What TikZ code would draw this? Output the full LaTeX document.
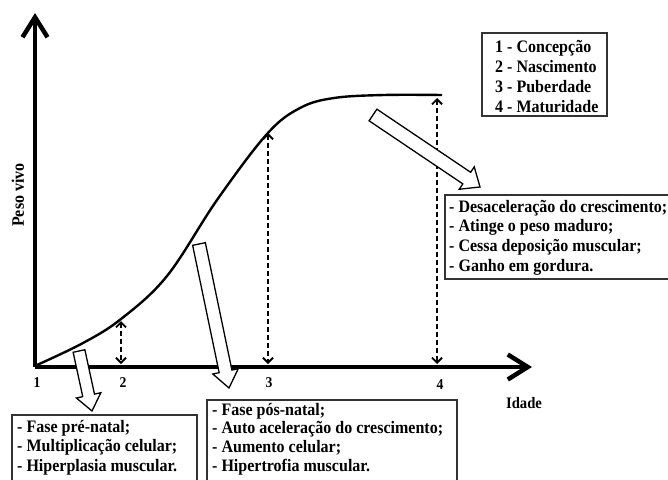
\documentclass[tikz,border=0pt]{standalone}
\usepackage{fontspec}
\setmainfont{Liberation Serif}[FakeStretch=0.915]
\usetikzlibrary{arrows.meta}
\newcommand\blockarrow[7]{%
  \pgfmathsetmacro\baDX{#3-#1}%
  \pgfmathsetmacro\baDY{#2-#4}%
  \pgfmathsetmacro\baL{veclen(\baDX,\baDY)}%
  \pgfmathsetmacro\baA{atan2(\baDY,\baDX)}%
  \pgfmathsetmacro\baB{\baL-#7}%
  \pgfmathsetmacro\baW{#5/2}%
  \pgfmathsetmacro\baH{#6/2}%
  \begin{scope}[shift={(#1,#2)}, rotate=\baA]
    \draw[hollow] (0pt,-\baW pt) -- (\baB pt,-\baW pt) -- (\baB pt,-\baH pt) -- (\baL pt,0pt) -- (\baB pt,\baH pt) -- (\baB pt,\baW pt) -- (0pt,\baW pt) -- cycle;
  \end{scope}}
\newcommand\boxtext[1]{\begin{tabular}[t]{@{}l@{}}#1\end{tabular}}
\begin{document}
\begin{tikzpicture}[x=1pt,y=-1pt,
  axisline/.style={line width=4.5pt, -{Straight Barb[length=20pt,width=25pt]}},
  growth/.style={line width=2.4pt},
  dasharrow/.style={line width=1.9pt, dash pattern=on 5pt off 3pt,
     {Straight Barb[length=5pt,width=10pt]}-{Straight Barb[length=5pt,width=10pt]}},
  boxframe/.style={draw=black!80, line width=1.6pt},
  hollow/.style={draw=black, line width=1.3pt, fill=white, line join=miter},
  boxfont/.style={font=\fontsize{17.5}{19.7}\selectfont\bfseries},
  numfont/.style={font=\fontsize{15}{18}\selectfont\bfseries},
  txt/.style={inner sep=0pt, anchor=base west, boxfont}]
\useasboundingbox (0,0) rectangle (668,479);
\clip (0,0) rectangle (668,479);

% axes
\coordinate (O) at (35,367);
\coordinate (ytop) at (35,13);
\coordinate (xend) at (532,367);
\draw[axisline] (O) -- (ytop);
\draw[axisline] (O) -- (xend);

% growth curve
\draw[growth] plot[smooth, tension=0.6] coordinates {(37,365) (83,343) (121,319) (167,276) (217,200) (267,134) (300,108) (334,98) (384,95) (442,95)};

% dashed markers
\coordinate (d2t) at (121,321); \coordinate (d2b) at (121,364);
\coordinate (d3t) at (268,133); \coordinate (d3b) at (268,364);
\coordinate (d4t) at (437,98);  \coordinate (d4b) at (437,364);
\draw[dasharrow] (d2t) -- (d2b);
\draw[dasharrow] (d3t) -- (d3b);
\draw[dasharrow] (d4t) -- (d4b);

% hollow arrows
\blockarrow{79}{351}{92}{411}{12}{25}{16}
\blockarrow{199}{244}{229}{388}{13}{26}{17}
\blockarrow{373}{115}{480}{187}{14}{27}{16}

% axis labels
\node[numfont] (n1) at (37,383) {1};
\node[numfont] (n2) at (123,383) {2};
\node[numfont] (n3) at (269,383) {3};
\node[numfont] (n4) at (440,385) {4};
\node[font=\fontsize{16}{18}\selectfont\bfseries] (idade) at (524,403) {Idade};
\node[boxfont, rotate=90] (peso) at (18,195) {Peso vivo};

% legend
\draw[boxframe] (482,33) rectangle (607,116);
\node[txt, font=\fontsize{17.5}{20.3}\selectfont\bfseries] (leg) at (495,52) {\boxtext{1 - Concepção\\2 - Nascimento\\3 - Puberdade\\4 - Maturidade}};

% right box
\draw[boxframe] (445,195) rectangle (690,279);
\node[txt] (bmat) at (449,212) {\boxtext{- Desaceleração do crescimento;\\- Atinge o peso maduro;\\- Cessa deposição muscular;\\- Ganho em gordura.}};

% bottom-left box
\draw[boxframe] (12,415) rectangle (197,495);
\node[txt] (bpre) at (17,432) {\boxtext{- Fase pré-natal;\\- Multiplicação celular;\\- Hiperplasia muscular.}};

% bottom-middle box
\draw[boxframe] (207,400) rectangle (457,495);
\node[txt,font=\fontsize{17.5}{18.8}\selectfont\bfseries] (bpos) at (212,415) {\boxtext{- Fase pós-natal;\\- Auto aceleração do crescimento;\\- Aumento celular;\\- Hipertrofia muscular.}};
\end{tikzpicture}
\end{document}
